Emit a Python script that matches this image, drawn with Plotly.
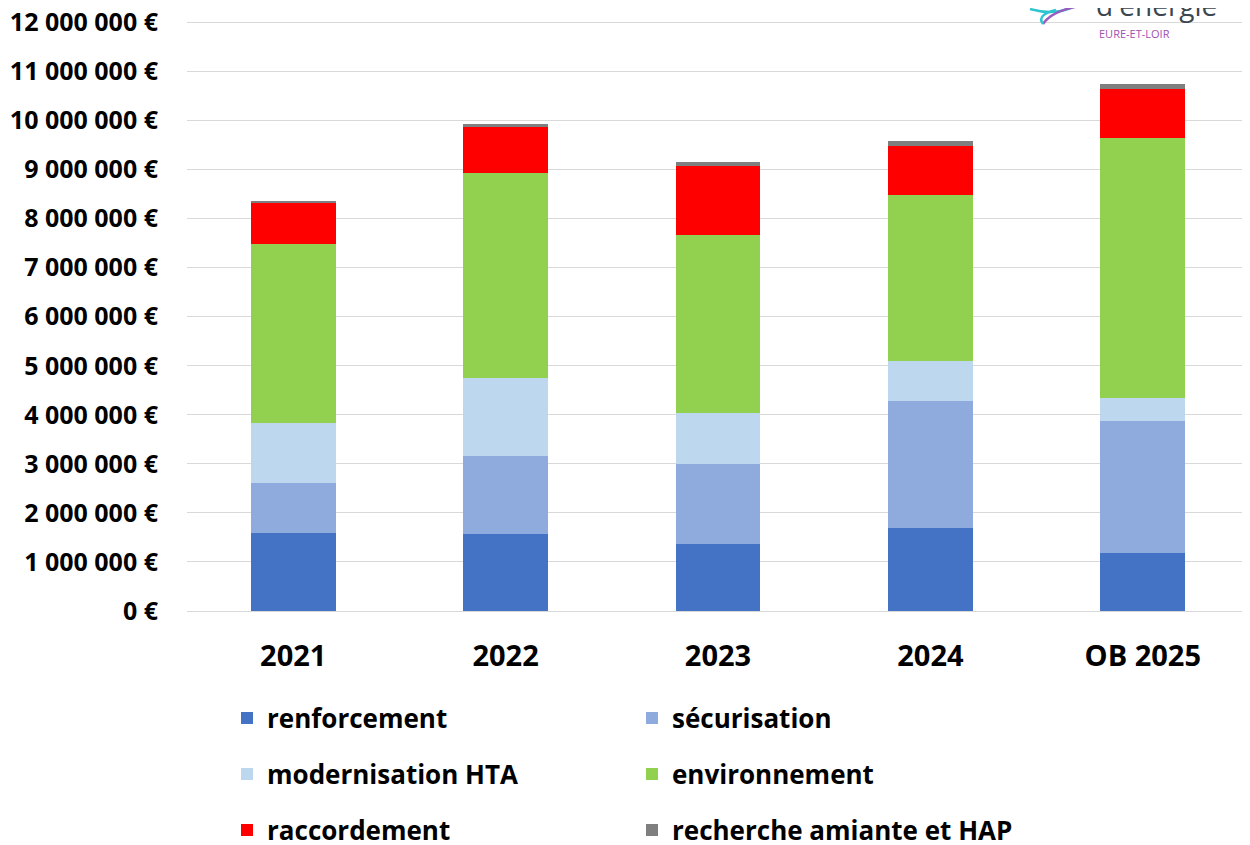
import plotly.graph_objects as go

# données (en euros)
annees = ['2021', '2022', '2023', '2024', 'OB 2025']
renforcement = [1600000, 1560000, 1370000, 1690000, 1180000]
securisation = [1010000, 1610000, 1620000, 2590000, 2690000]
modernisation_hta = [1220000, 1580000, 1040000, 810000, 470000]
environnement = [3660000, 4180000, 3630000, 3400000, 5310000]
raccordement = [830000, 940000, 1420000, 990000, 990000]
recherche_amiante = [20000, 70000, 70000, 100000, 110000]

y_ticks = list(range(0, 12000001, 1000000))
y_labels = ['{:,} €'.format(v).replace(',', ' ') for v in y_ticks]

# la page ajoute 8 px de marge : on décale tout de 8 px
OFF = 8
W, H = 1250 - OFF, 845 - OFF
L, R, T = 187 - OFF, 1, 21 - OFF
B = H - (611 - OFF)
FONT = 'Open Sans'

series = [
    ('renforcement', renforcement, '#4472C4', 'legend'),
    ('sécurisation', securisation, '#8FAADC', 'legend'),
    ('modernisation HTA', modernisation_hta, '#BDD7EE', 'legend2'),
    ('environnement', environnement, '#92D050', 'legend2'),
    ('raccordement', raccordement, '#FF0000', 'legend3'),
    ('recherche amiante et HAP', recherche_amiante, '#7F7F7F', 'legend3'),
]

fig = go.Figure()
for name, vals, col, leg in series:
    fig.add_trace(go.Bar(x=annees, y=vals, name=name, marker_color=col,
                         marker_line_width=0, legend=leg))


def leg(ypx):
    return dict(orientation='h', xref='container', yref='container',
                x=(227 - OFF) / W, xanchor='left', y=1 - (ypx - OFF) / H, yanchor='middle',
                entrywidth=360,
                font=dict(family=FONT, size=26, color='#000000', weight='bold'),
                bgcolor='rgba(0,0,0,0)', traceorder='normal')


fig.update_layout(
    width=W, height=H,
    margin=dict(l=L, r=R, t=T, b=B, autoexpand=False),
    barmode='stack', bargap=0.6,
    plot_bgcolor='white', paper_bgcolor='white',
    font=dict(family=FONT, color='#000000'),
    legend=leg(718), legend2=leg(774), legend3=leg(830),
)
fig.update_yaxes(range=[0, 12030000], tickvals=y_ticks, ticktext=y_labels,
                 showgrid=True, gridcolor='#D9D9D9', gridwidth=1.3,
                 zeroline=False, showline=False, ticks='', automargin=False,
                 ticklabelstandoff=28, ticklabeloverflow='allow',
                 tickfont=dict(family=FONT, size=25, color='#000000', weight='bold'))
fig.update_xaxes(showline=True, linecolor='#D9D9D9', linewidth=1.3, ticks='',
                 ticklabelstandoff=19, automargin=False,
                 tickfont=dict(family=FONT, size=29, color='#000000', weight='bold'))


# logo en haut à droite (partiellement coupé)
def px(x):
    return (x - OFF - L) / (W - L - R)


def py(y):
    return 1 + (T - (y - OFF)) / (H - T - B)


fig.add_annotation(text="d'énergie", x=px(1156), y=py(5), xref='paper', yref='paper',
                   xanchor='center', yanchor='middle', showarrow=False,
                   font=dict(family=FONT, size=28, color='#3B4650'))
fig.add_annotation(text='EURE-ET-LOIR', x=px(1134), y=py(34), xref='paper', yref='paper',
                   xanchor='center', yanchor='middle', showarrow=False,
                   font=dict(family=FONT, size=11, color='#A050B0'))
fig.add_shape(type='path', xref='paper', yref='paper',
              path='M {} {} Q {} {} {} {}'.format(px(1030), py(9), px(1062), py(18), px(1084), py(0)),
              line=dict(color='#2EC4D0', width=2.5))
fig.add_shape(type='path', xref='paper', yref='paper',
              path='M {} {} Q {} {} {} {}'.format(px(1043), py(24), px(1052), py(10), px(1085), py(5)),
              line=dict(color='#9A5BC0', width=2.5))
fig.add_shape(type='path', xref='paper', yref='paper',
              path='M {} {} Q {} {} {} {}'.format(px(1043), py(24), px(1036), py(15), px(1056), py(10)),
              line=dict(color='#2EC4D0', width=2.5))

fig.write_html('out.html')
